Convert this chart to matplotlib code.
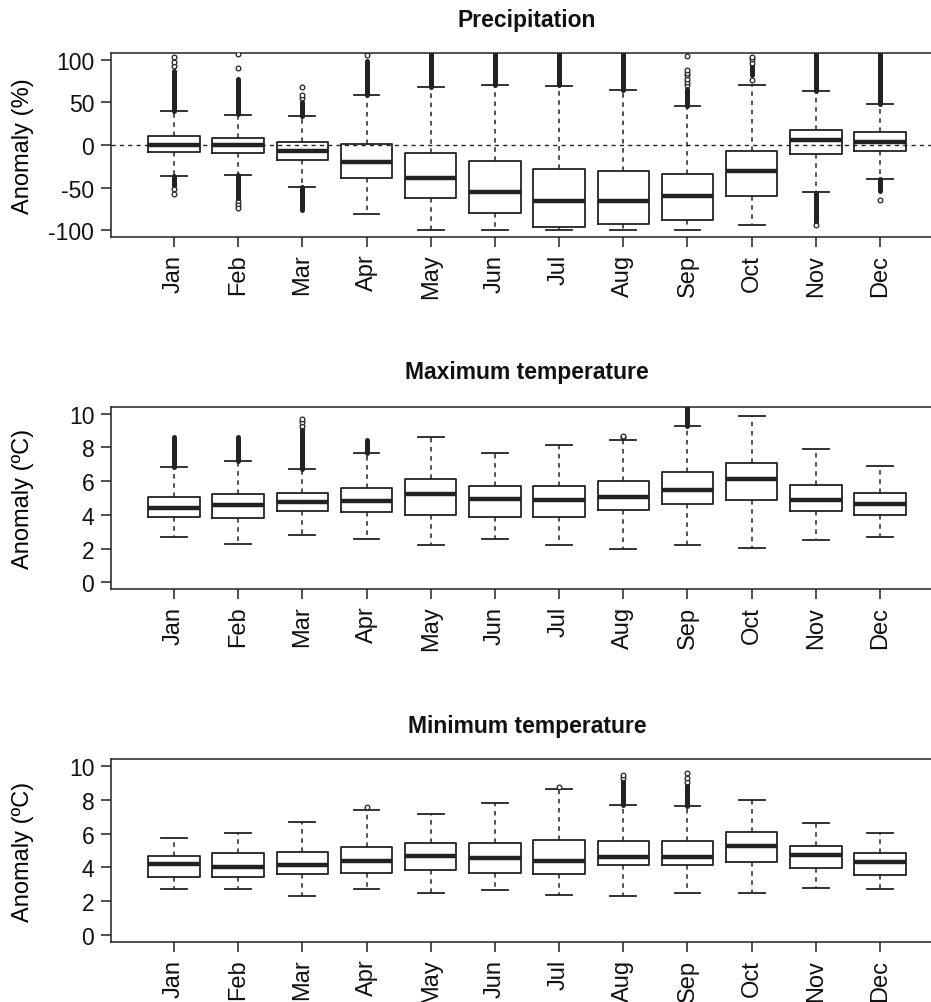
import matplotlib.pyplot as plt

plt.rcParams['font.family'] = ['Liberation Sans', 'DejaVu Sans']
plt.rcParams['axes.unicode_minus'] = False  # R style hyphen minus

months = ['Jan', 'Feb', 'Mar', 'Apr', 'May', 'Jun',
          'Jul', 'Aug', 'Sep', 'Oct', 'Nov', 'Dec']

# ---- Precipitation anomaly (%) ----
pr_q1 = [-8.6, -9.8, -18, -38.4, -62, -79.6, -96, -93.3, -87.8, -60.4, -11, -7]
pr_med = [0.4, 0, -6.7, -20.4, -38.4, -55.7, -65.5, -65.5, -60.4, -30.2, 5.9, 3.9]
pr_q3 = [11, 8.6, 3.9, 0.8, -9.4, -19.2, -28.6, -30.2, -34, -6.7, 18, 15.3]
pr_lo = [-36.9, -35.3, -49, -80.8, -100, -99.6, -99.6, -99.6, -99.6, -94.5, -55.7, -39.6]
pr_hi = [39.6, 35.7, 34, 58.8, 68, 71, 69.8, 64.7, 45.5, 71, 63, 47.8]
# dense runs of outliers (month number, from, to)
pr_band_m = [1, 1, 2, 2, 3, 3, 4, 5, 6, 7, 8, 9, 10, 11, 11, 12, 12]
pr_band_a = [40, -37, 36, -35, 34, -49, 59, 68, 71, 70, 65, 45.5, 82, 63, -56, 48, -40]
pr_band_b = [87, -48, 78, -65, 50, -76, 99, 108, 108, 108, 108, 66, 93, 108, -90, 108, -54]
# single outliers
pr_out_m = [1, 1, 1, 1, 1, 2, 2, 2, 2, 2, 3, 3, 3, 4, 9, 9, 9, 9, 9, 9, 9,
            10, 10, 10, 10, 11, 12]
pr_out_v = [93, 98, 103, -52, -58, 90.6, 107, -67, -71, -74, 55, 59, 68, 106,
            70, 74, 78, 82, 85, 88, 104.7, 76.5, 97, 101, 104, -94, -64.7]

# ---- Maximum temperature anomaly (ºC) ----
tx_q1 = [3.9, 3.84, 4.25, 4.18, 3.98, 3.9, 3.9, 4.31, 4.67, 4.86, 4.25, 3.98]
tx_med = [4.39, 4.57, 4.76, 4.8, 5.25, 4.96, 4.88, 5.04, 5.49, 6.12, 4.88, 4.63]
tx_q3 = [5.08, 5.24, 5.29, 5.57, 6.12, 5.7, 5.7, 5.98, 6.53, 7.06, 5.78, 5.29]
tx_lo = [2.67, 2.27, 2.82, 2.55, 2.2, 2.55, 2.2, 2.0, 2.2, 2.06, 2.49, 2.69]
tx_hi = [6.86, 7.2, 6.73, 7.69, 8.63, 7.69, 8.16, 8.45, 9.25, 9.88, 7.9, 6.92]
tx_band_m = [1, 2, 3, 4, 9]
tx_band_a = [6.86, 7.2, 6.73, 7.69, 9.25]
tx_band_b = [8.6, 8.6, 9.1, 8.45, 10.5]
tx_out_m = [3, 3, 3, 8, 8]
tx_out_v = [9.3, 9.5, 9.67, 8.6, 8.7]

# ---- Minimum temperature anomaly (ºC) ----
tn_q1 = [3.41, 3.41, 3.63, 3.7, 3.82, 3.7, 3.63, 4.16, 4.16, 4.31, 3.96, 3.55]
tn_med = [4.2, 4.04, 4.12, 4.39, 4.65, 4.55, 4.39, 4.59, 4.59, 5.27, 4.73, 4.31]
tn_q3 = [4.65, 4.86, 4.94, 5.2, 5.47, 5.47, 5.61, 5.55, 5.55, 6.1, 5.27, 4.86]
tn_lo = [2.75, 2.75, 2.31, 2.75, 2.47, 2.69, 2.39, 2.31, 2.47, 2.47, 2.8, 2.75]
tn_hi = [5.73, 6.02, 6.71, 7.39, 7.14, 7.78, 8.63, 7.67, 7.6, 8.0, 6.63, 6.02]
tn_band_m = [8, 9]
tn_band_a = [7.67, 7.6]
tn_band_b = [9.1, 8.86]
tn_out_m = [4, 7, 8, 8, 9, 9, 9]
tn_out_v = [7.59, 8.76, 9.25, 9.45, 9.06, 9.29, 9.55]


def boxpanel(ax, q1, med, q3, lo, hi, band_m, band_a, band_b, out_m, out_v):
    stats = []
    for i in range(len(months)):
        stats.append({'q1': q1[i], 'med': med[i], 'q3': q3[i],
                      'whislo': lo[i], 'whishi': hi[i], 'fliers': []})
    pos = list(range(1, len(months) + 1))
    ax.bxp(stats, positions=pos, widths=0.8, showfliers=False,
           boxprops=dict(color='#222222', linewidth=1.3),
           medianprops=dict(color='#222222', linewidth=3.2, solid_capstyle='butt'),
           whiskerprops=dict(color='#222222', linewidth=1.1, linestyle=(0, (3, 3))),
           capprops=dict(color='#222222', linewidth=1.3))
    # dense runs of outliers look like solid bars
    ax.vlines(band_m, band_a, band_b, color='#222222', linewidth=3.6,
              capstyle='round', zorder=3)
    ax.plot(out_m, out_v, 'o', ms=3.4, mfc='white', mec='#222222', mew=0.9,
            linestyle='none', zorder=4)
    ax.set_xlim(0.02, 12.98)
    ax.set_xticks(pos)
    ax.set_xticklabels(months, rotation=90, fontsize=17)
    for s in ax.spines.values():
        s.set_linewidth(1.1)
        s.set_color('#222222')
    ax.tick_params(direction='out', length=7, width=1.1, colors='#222222',
                   pad=5, labelcolor='#111111')
    ax.tick_params(axis='y', labelsize=16.5)
    ax.yaxis.set_label_coords(-0.092, 0.5)


fig = plt.figure(figsize=(9.31, 10.03), dpi=100)
W = 931.0
H = 1003.0
left = 111 / W
width = (943 - 111) / W

ax1 = fig.add_axes([left, 1 - 238 / H, width, 184 / H])
boxpanel(ax1, pr_q1, pr_med, pr_q3, pr_lo, pr_hi,
         pr_band_m, pr_band_a, pr_band_b, pr_out_m, pr_out_v)
ax1.axhline(0, color='#222222', linewidth=1.0, linestyle=(0, (3, 3)), zorder=5)
ax1.set_ylim(-108.2, 108.2)
ax1.set_yticks([-100, -50, 0, 50, 100])
ax1.set_ylabel('Anomaly (%)', fontsize=17)

ax2 = fig.add_axes([left, 1 - 590 / H, width, 182 / H])
boxpanel(ax2, tx_q1, tx_med, tx_q3, tx_lo, tx_hi,
         tx_band_m, tx_band_a, tx_band_b, tx_out_m, tx_out_v)
ax2.set_ylim(-0.4, 10.4)
ax2.set_yticks([0, 2, 4, 6, 8, 10])
ax2.set_ylabel('Anomaly (ºC)', fontsize=17)

ax3 = fig.add_axes([left, 1 - 943 / H, width, 183 / H])
boxpanel(ax3, tn_q1, tn_med, tn_q3, tn_lo, tn_hi,
         tn_band_m, tn_band_a, tn_band_b, tn_out_m, tn_out_v)
ax3.set_ylim(-0.4, 10.4)
ax3.set_yticks([0, 2, 4, 6, 8, 10])
ax3.set_ylabel('Anomaly (ºC)', fontsize=17)

cx = 527 / W
fig.text(cx, 1 - 26.7 / H, 'Precipitation', ha='center', va='baseline',
         fontsize=16.5, fontweight='bold', color='#111111')
fig.text(cx, 1 - 379.3 / H, 'Maximum temperature', ha='center', va='baseline',
         fontsize=16.5, fontweight='bold', color='#111111')
fig.text(cx, 1 - 732.7 / H, 'Minimum temperature', ha='center', va='baseline',
         fontsize=16.5, fontweight='bold', color='#111111')

fig.savefig('out.png', dpi=100)
